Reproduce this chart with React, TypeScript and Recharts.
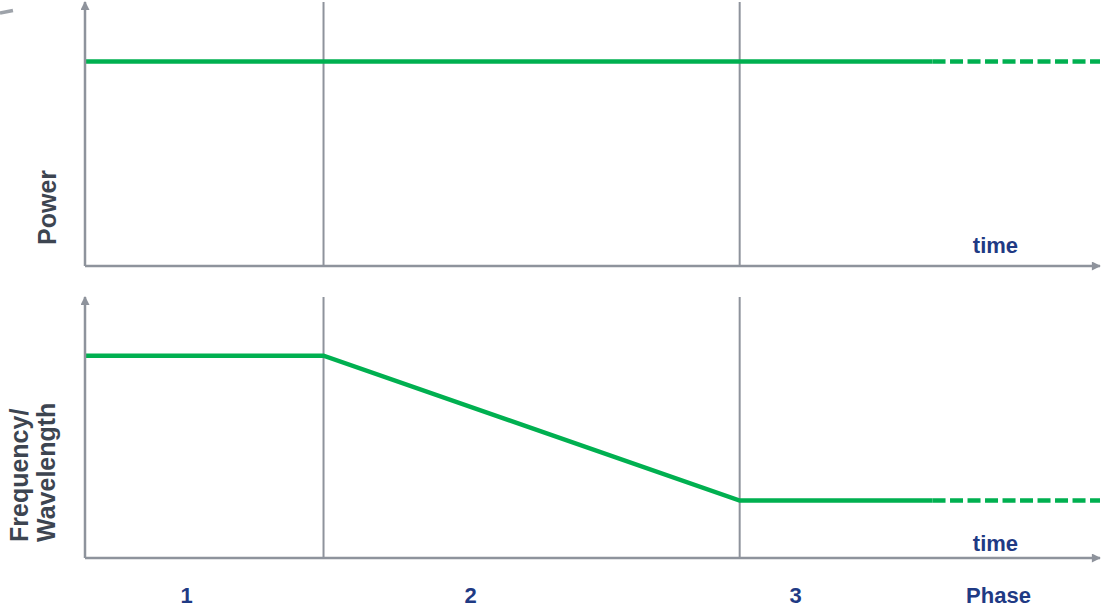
import React from 'react';
import {
  LineChart,
  Line,
  XAxis,
  YAxis,
  Label,
  ReferenceLine,
  ReferenceDot,
} from 'recharts';

// x in arbitrary time units, 0..10 across the plot
const timePoints = [0, 2.35, 6.45, 8.35, 10];
const powerSolid = [7.75, 7.75, 7.75, 7.75, null];
const powerDashed = [null, null, null, 7.75, 7.75];
const freqSolid = [7.75, 7.75, 2.2, 2.2, null];
const freqDashed = [null, null, null, 2.2, 2.2];

const phaseBounds = [2.35, 6.45];
const phaseTickPos = [1, 3.8, 7, 9];
const phaseTickLabels = ['1', '2', '3', 'Phase'];
const timeLabelX = 8.97;

const green = '#00B050';
const axisGray = '#8E939C';
const titleColor = '#3D4551';
const blue = '#1F3A84';
const fontFamily = '"Liberation Sans", Arial, sans-serif';

const powerData = timePoints.map((t, i) => ({ t, solid: powerSolid[i], dashed: powerDashed[i] }));
const freqData = timePoints.map((t, i) => ({ t, solid: freqSolid[i], dashed: freqDashed[i] }));

const axisLine = { stroke: axisGray, strokeWidth: 2.5 };

// rotated axis title, lines stacked left to right, anchored near the bottom of the axis
const AxisTitle = (props: any) => {
  const { viewBox, lines, baseXs, bottomGap } = props;
  const y = viewBox.y + viewBox.height - bottomGap;
  return (
    <g>
      {lines.map((line: string, i: number) => (
        <text
          key={line}
          x={baseXs[i]}
          y={y}
          transform={`rotate(-90, ${baseXs[i]}, ${y})`}
          textAnchor="start"
          fill={titleColor}
          fontSize={25}
          fontWeight={700}
          fontFamily={fontFamily}
        >
          {line}
        </text>
      ))}
    </g>
  );
};

const timeLabel = { value: 'time', position: 'center' as const, fill: blue, fontSize: 22, fontWeight: 700 };

const App: React.FC = () => {
  return (
    <div style={{ position: 'absolute', left: 0, top: 0, width: 1109, height: 607, background: '#fff', fontFamily }}>
      <svg width={0} height={0} style={{ position: 'absolute' }}>
        <defs>
          <marker
            id="axisArrow"
            viewBox="0 0 10 10"
            refX={9}
            refY={5}
            markerWidth={10}
            markerHeight={9}
            markerUnits="userSpaceOnUse"
            orient="auto-start-reverse"
          >
            <path d="M0,0 L10,5 L0,10 z" fill={axisGray} />
          </marker>
        </defs>
      </svg>
      {/* small stray mark in the top-left corner */}
      <svg width={20} height={20} style={{ position: 'absolute', left: 0, top: 0, zIndex: 1 }}>
        <line x1={0} y1={13} x2={13} y2={10.5} stroke="#9EA3AA" strokeWidth={3.5} />
      </svg>

      <LineChart width={1109} height={290} data={powerData} margin={{ top: 2, right: 9, bottom: 0, left: 0 }}>
        <XAxis
          dataKey="t"
          type="number"
          domain={[0, 10]}
          tick={false}
          tickLine={false}
          height={24}
          axisLine={{ ...axisLine, markerEnd: 'url(#axisArrow)' }}
        />
        <YAxis
          type="number"
          domain={[0, 10]}
          tick={false}
          tickLine={false}
          width={85}
          axisLine={{ ...axisLine, markerStart: 'url(#axisArrow)' }}
        >
          <Label content={(p: any) => <AxisTitle {...p} lines={['Power']} baseXs={[56]} bottomGap={21} />} />
        </YAxis>
        {phaseBounds.map((b) => (
          <ReferenceLine key={b} x={b} stroke={axisGray} strokeWidth={2} />
        ))}
        <ReferenceDot x={timeLabelX} y={0.8} r={0} fill="none" stroke="none" label={timeLabel} />
        <Line type="linear" dataKey="solid" stroke={green} strokeWidth={4.5} dot={false} isAnimationActive={false} />
        <Line
          type="linear"
          dataKey="dashed"
          stroke={green}
          strokeWidth={4.5}
          strokeDasharray="13 4.5"
          dot={false}
          isAnimationActive={false}
        />
      </LineChart>

      <LineChart width={1109} height={317} data={freqData} margin={{ top: 7, right: 9, bottom: 0, left: 0 }}>
        <XAxis
          dataKey="t"
          type="number"
          domain={[0, 10]}
          ticks={phaseTickPos}
          interval={0}
          tickFormatter={(v: number) => phaseTickLabels[phaseTickPos.indexOf(v)]}
          tick={{ fill: blue, fontSize: 22, fontWeight: 700 }}
          tickLine={false}
          tickSize={0}
          tickMargin={29}
          height={49}
          axisLine={{ ...axisLine, markerEnd: 'url(#axisArrow)' }}
        />
        <YAxis
          type="number"
          domain={[0, 10]}
          tick={false}
          tickLine={false}
          width={85}
          axisLine={{ ...axisLine, markerStart: 'url(#axisArrow)' }}
        >
          <Label
            content={(p: any) => (
              <AxisTitle {...p} lines={['Frequency/', 'Wavelength']} baseXs={[28, 55]} bottomGap={16} />
            )}
          />
        </YAxis>
        {phaseBounds.map((b) => (
          <ReferenceLine key={b} x={b} stroke={axisGray} strokeWidth={2} />
        ))}
        <ReferenceDot x={timeLabelX} y={0.57} r={0} fill="none" stroke="none" label={timeLabel} />
        <Line type="linear" dataKey="solid" stroke={green} strokeWidth={4.5} dot={false} isAnimationActive={false} />
        <Line
          type="linear"
          dataKey="dashed"
          stroke={green}
          strokeWidth={4.5}
          strokeDasharray="13 4.5"
          dot={false}
          isAnimationActive={false}
        />
      </LineChart>
    </div>
  );
};

export default App;
